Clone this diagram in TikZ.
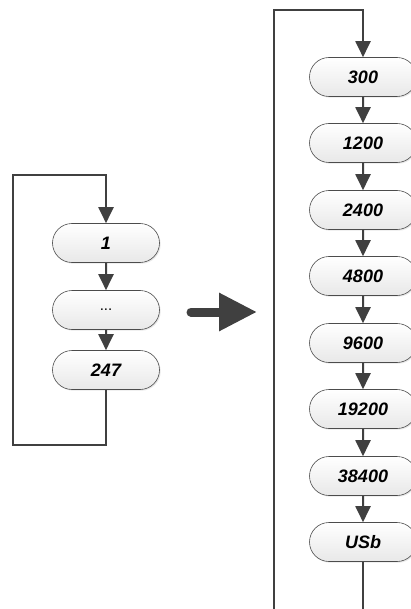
\documentclass[tikz,border=0pt]{standalone}
\usepackage{fontspec}
\newfontfamily\lcdfont{Liberation Sans}
\usetikzlibrary{shapes.misc, arrows.meta, shadows}
\tikzset{baud/.style={draw=black!70, line width=0.6pt, rounded rectangle, minimum width=107pt, minimum height=39pt,
                      top color=white, bottom color=black!9, inner sep=0pt,
                      drop shadow={opacity=0.18, shadow xshift=1.2pt, shadow yshift=-1.2pt},
                      font=\lcdfont\bfseries\itshape\fontsize{18}{18}\selectfont},
         flow/.style={draw=black!75, line width=2pt, -{Triangle[length=16pt,width=15pt]}},
        }

\begin{document}
\begin{tikzpicture}[x=1pt,y=-1pt]
        \useasboundingbox[fill=white](0,0)rectangle(411,609);

        % left list
        \node[baud](a1)at(106,243){1};
        \node[baud](a2)at(106,310){\mdseries\upshape\fontsize{15}{15}\selectfont...};
        \node[baud](a3)at(106,370){247};

        \draw[flow](a1)--(a2);
        \draw[flow](a2)--(a3);
        \draw[flow](a3.south)|-(13,445)|-(106,175)--(a1.north);

        % big arrow
        \draw[draw=black!75, line width=9pt, line cap=round, -{Triangle[length=38pt,width=36pt]}](191,312)--(257,312);

        % right list
        \node[baud](b1)at(363,77){300};
        \node[baud](b2)at(363,143){1200};
        \node[baud](b3)at(363,210){2400};
        \node[baud](b4)at(363,276){4800};
        \node[baud](b5)at(363,343){9600};
        \node[baud](b6)at(363,409){19200};
        \node[baud](b7)at(363,476){38400};
        \node[baud](b8)at(363,542){USb};

        \foreach \i/\j in {1/2,2/3,3/4,4/5,5/6,6/7,7/8}
            \draw[flow](b\i)--(b\j);
        \draw[flow](b8.south)|-(274,625)|-(363,10)--(b1.north);
    \end{tikzpicture}
\end{document}
